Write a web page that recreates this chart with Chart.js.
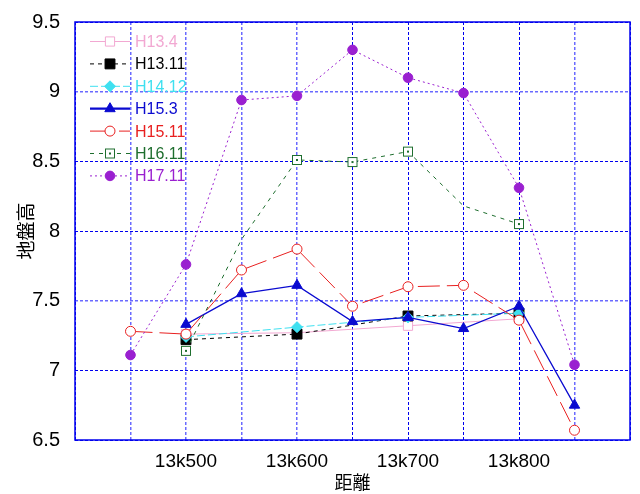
<!DOCTYPE html>
<html>
<head>
<meta charset="utf-8">
<script src="https://cdn.jsdelivr.net/npm/chart.js@4/dist/chart.umd.min.js"></script>
<style>
  html, body { margin: 0; padding: 0; background: #fff; }
  #wrap { width: 640px; height: 494px; }
</style>
</head>
<body>
<div id="wrap"><canvas id="chart" width="640" height="494"></canvas></div>
<script>
// distance along the line (13k + metres)
const distances = [450, 500, 550, 600, 650, 700, 750, 800, 850];

// ground height per survey
const h13_4  = [null, 7.26, null, 7.27, null, 7.32, null, 7.37, null];
const h13_11 = [null, 7.22, null, 7.26, null, 7.39, null, 7.41, null];
const h14_12 = [null, 7.24, null, 7.31, null, 7.38, null, 7.41, null];
const h15_3  = [null, 7.33, 7.55, 7.61, 7.35, 7.38, 7.30, 7.46, 6.75];
const h15_11 = [7.28, 7.26, 7.72, 7.87, 7.46, 7.60, 7.61, 7.36, 6.57];
const h16_11 = [null, 7.14, 7.94, 8.51, 8.495, 8.57, 8.18, 8.05, null];
const h17_11 = [7.11, 7.76, 8.94, 8.97, 9.30, 9.10, 8.99, 8.31, 7.04];

const seriesNames = ['H13.4', 'H13.11', 'H14.12', 'H15.3', 'H15.11', 'H16.11', 'H17.11'];
const xTitle = '距離';
const yTitle = '地盤高';

const FONT = "'Liberation Sans', sans-serif";
const CJK = "'Noto Sans CJK JP', sans-serif";

// open square with a dot in the middle (H16.11 marker)
function boxDot(color) {
    const c = document.createElement('canvas');
    c.width = 12; c.height = 12;
    const g = c.getContext('2d');
    g.fillStyle = '#fff';
    g.fillRect(1.5, 1.5, 9, 9);
    g.strokeStyle = color;
    g.lineWidth = 1;
    g.strokeRect(1.5, 1.5, 9, 9);
    g.fillStyle = color;
    g.fillRect(5, 5, 2, 2);
    return c;
}

const toPoints = (arr) => arr.map((v, i) => ({ x: distances[i], y: v }));

const GREEN = '#1e6e2e';

const datasets = [
    { label: seriesNames[0], data: toPoints(h13_4), borderColor: '#f2a8d2', backgroundColor: '#fff',
      borderWidth: 1, borderDash: [], pointStyle: 'rect', pointRadius: 6.5, order: 7 },
    { label: seriesNames[1], data: toPoints(h13_11), borderColor: '#000', backgroundColor: '#000',
      borderWidth: 1, borderDash: [4, 4], pointStyle: 'rect', pointRadius: 7, order: 6 },
    { label: seriesNames[2], data: toPoints(h14_12), borderColor: '#3fe0f0', backgroundColor: '#3fe0f0',
      borderWidth: 1, borderDash: [8, 3], pointStyle: 'rectRot', pointRadius: 5.5, order: 5 },
    { label: seriesNames[3], data: toPoints(h15_3), borderColor: '#0a0ad0', backgroundColor: '#0a0ad0',
      borderWidth: 1.3, borderDash: [], pointStyle: 'triangle', pointRadius: 6, order: 4 },
    { label: seriesNames[4], data: toPoints(h15_11), borderColor: '#e82020', backgroundColor: '#fff',
      borderWidth: 1, borderDash: [22, 7], pointStyle: 'circle', pointRadius: 5, order: 3 },
    { label: seriesNames[5], data: toPoints(h16_11), borderColor: GREEN, backgroundColor: '#fff',
      borderWidth: 1, borderDash: [4, 5], pointStyle: boxDot(GREEN),
      pointRadius: (ctx) => (ctx.dataIndex === 2 || ctx.dataIndex === 6) ? 0 : 5, order: 2 },
    { label: seriesNames[6], data: toPoints(h17_11), borderColor: '#9a20d0', backgroundColor: '#9a20d0',
      borderWidth: 1, borderDash: [2, 3], pointStyle: 'circle', pointRadius: 4.8, order: 1 }
].map(d => Object.assign({
    pointBorderColor: d.borderColor,
    pointBackgroundColor: d.backgroundColor,
    pointBorderWidth: 1,
    spanGaps: true,
    tension: 0,
    fill: false
}, d));

// light dotted vs darker dash-dot grid lines, as in the original
const lightX = [1, 2, 3, 4, 9];
const lightY = [2, 5];

const framePlugin = {
    id: 'frame',
    beforeDatasetsDraw(chart) {
        const a = chart.chartArea;
        const ctx = chart.ctx;
        ctx.save();
        ctx.strokeStyle = '#0000ee';
        ctx.lineWidth = 1.5;
        ctx.setLineDash([]);
        ctx.strokeRect(a.left, a.top, a.right - a.left, a.bottom - a.top);
        ctx.restore();
    }
};

const legendPlugin = {
    id: 'innerLegend',
    afterDraw(chart) {
        const ctx = chart.ctx;
        const x0 = 90, x1 = 130, xm = 110, xt = 135;
        let y = 41.5;
        const step = 22.4;
        chart.data.datasets.forEach((ds) => {
            ctx.save();
            ctx.strokeStyle = ds.borderColor;
            ctx.lineWidth = ds.label === 'H15.3' ? 2.2 : 1;
            ctx.setLineDash(ds.borderDash);
            ctx.beginPath();
            ctx.moveTo(x0, y);
            ctx.lineTo(x1, y);
            ctx.stroke();
            ctx.setLineDash([]);
            ctx.fillStyle = ds.pointBackgroundColor;
            ctx.strokeStyle = ds.pointBorderColor;
            ctx.lineWidth = 1;
            const r = typeof ds.pointRadius === 'function' ? 5 : ds.pointRadius;
            Chart.helpers.drawPoint(ctx, { pointStyle: ds.pointStyle, radius: r, rotation: 0, borderWidth: 1 }, xm, y);
            ctx.fillStyle = ds.borderColor;
            ctx.font = "16px " + FONT;
            ctx.textBaseline = 'middle';
            ctx.textAlign = 'left';
            ctx.fillText(ds.label, xt, y + 1);
            ctx.restore();
            y += step;
        });
    }
};

new Chart(document.getElementById('chart').getContext('2d'), {
    type: 'line',
    data: { datasets },
    options: {
        responsive: false,
        animation: false,
        layout: { padding: { top: 22, right: 8, left: 0, bottom: 0 } },
        plugins: {
            legend: { display: false },
            tooltip: { enabled: false }
        },
        scales: {
            x: {
                type: 'linear',
                min: 400,
                max: 900,
                afterFit: (s) => { s.height = 54; },
                border: { display: false, dash: [3, 2] },
                grid: {
                    drawTicks: false,
                    color: (c) => lightX.includes(c.index) ? 'rgba(80,80,255,0.85)' : '#0000ee',
                    lineWidth: (c) => lightX.includes(c.index) ? 1.5 : 1
                },
                ticks: {
                    stepSize: 50,
                    autoSkip: false,
                    maxRotation: 0,
                    padding: 10,
                    color: '#000',
                    font: { family: FONT, size: 19 },
                    callback: (v) => (v % 100 === 0 && v > 400 && v < 900) ? '13k' + v : ''
                },
                title: {
                    display: true,
                    text: xTitle,
                    color: '#000',
                    font: { family: CJK, size: 18 },
                    padding: { top: 0, bottom: 1 }
                }
            },
            y: {
                min: 6.5,
                max: 9.5,
                afterFit: (s) => { s.width = 75; },
                border: { display: false, dash: [3, 2] },
                grid: {
                    drawTicks: false,
                    color: (c) => lightY.includes(c.index) ? 'rgba(80,80,255,0.85)' : '#0000ee',
                    lineWidth: (c) => lightY.includes(c.index) ? 1.5 : 1
                },
                ticks: {
                    stepSize: 0.5,
                    padding: 15,
                    color: '#000',
                    font: { family: FONT, size: 20, lineHeight: 0.4 },
                    callback: (v) => String(v)
                },
                title: {
                    display: true,
                    text: yTitle,
                    color: '#000',
                    font: { family: CJK, size: 19 },
                    padding: { top: 14, bottom: 0 }
                }
            }
        }
    },
    plugins: [framePlugin, legendPlugin]
});
</script>
</body>
</html>
